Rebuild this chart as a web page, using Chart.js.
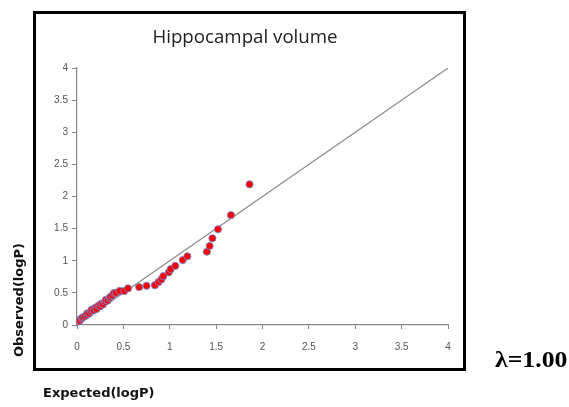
<!DOCTYPE html>
<html>
<head>
<meta charset="utf-8">
<script src="https://cdn.jsdelivr.net/npm/chart.js@4.4.0/dist/chart.umd.min.js"></script>
<style>
  html, body { margin: 0; padding: 0; background: #fff; }
  #wrap { position: relative; width: 569px; height: 407px; overflow: hidden; }
  #c { position: absolute; left: 0; top: 0; }
  #box { position: absolute; left: 33px; top: 11px; width: 433px; height: 360px; box-sizing: border-box; border: 3px solid #000; pointer-events: none; }
  .lbl { position: absolute; font-family: "DejaVu Sans", sans-serif; font-weight: bold; font-size: 13px; color: #111; white-space: nowrap; }
  #ylab { left: 18px; top: 300px; transform: translate(-50%, -50%) rotate(-90deg); }
  #xlab { left: 43px; top: 385px; }
  #lam { position: absolute; left: 495px; top: 347px; font-family: "Liberation Serif", "Times New Roman", serif; font-weight: bold; font-size: 23px; color: #000; white-space: nowrap; transform: scaleX(1.12); transform-origin: left center; }
</style>
</head>
<body>
<div id="wrap">
  <canvas id="c" width="569" height="407"></canvas>
  <div id="box"></div>
  <div class="lbl" id="ylab">Observed(logP)</div>
  <div class="lbl" id="xlab">Expected(logP)</div>
  <div id="lam">λ=1.00</div>
</div>
<script>
const chartTitle = "Hippocampal volume";
const expectedLogP = [0, 0.01, 0.015, 0.03, 0.05, 0.06, 0.08, 0.10, 0.11, 0.13, 0.15, 0.16, 0.18, 0.20, 0.21, 0.23, 0.25, 0.26, 0.28, 0.30, 0.31, 0.33, 0.35, 0.36, 0.38, 0.40, 0.42,
  0.46, 0.51, 0.55, 0.67, 0.75, 0.84, 0.88, 0.91, 0.93, 0.99, 1.01, 1.06, 1.14, 1.19, 1.40, 1.43, 1.46, 1.52, 1.66, 1.86];
const observedLogP = [0, 0.05, 0.08, 0.07, 0.10, 0.12, 0.13, 0.15, 0.18, 0.18, 0.21, 0.24, 0.23, 0.27, 0.25, 0.30, 0.29, 0.33, 0.32, 0.36, 0.39, 0.38, 0.42, 0.44, 0.46, 0.50, 0.50,
  0.53, 0.53, 0.57, 0.59, 0.61, 0.62, 0.67, 0.71, 0.76, 0.82, 0.87, 0.92, 1.01, 1.07, 1.14, 1.23, 1.35, 1.49, 1.71, 2.19];
const refLineX = [0, 4];
const refLineY = [0, 4];
const tickLabels = ["0", "0.5", "1", "1.5", "2", "2.5", "3", "3.5", "4"];
const axisMin = 0, axisMax = 4, axisStep = 0.5;

const pts = expectedLogP.map((x, i) => ({ x: x, y: observedLogP[i] }));
const ref = refLineX.map((x, i) => ({ x: x, y: refLineY[i] }));
const fmt = (v) => { const i = Math.round((v - axisMin) / axisStep); return tickLabels[i] !== undefined ? tickLabels[i] : ''; };

const tickFont = { family: "'Liberation Sans', Arial, sans-serif", size: 10 };
const axisColor = '#868686';

new Chart(document.getElementById('c'), {
  type: 'scatter',
  data: {
    datasets: [
      { type: 'scatter', data: pts, backgroundColor: '#ff0000', borderColor: 'rgba(110,140,215,0.85)', borderWidth: 1, pointRadius: 3.6, order: 1 },
      { type: 'line', data: ref, borderColor: '#8a8a8a', borderWidth: 1.2, pointRadius: 0, fill: false, tension: 0, order: 2 }
    ]
  },
  options: {
    responsive: false,
    animation: false,
    devicePixelRatio: 1,
    layout: { padding: { left: 42, right: 121, top: 0, bottom: 52 } },
    plugins: {
      legend: { display: false },
      tooltip: { enabled: false },
      title: {
        display: true, text: chartTitle, color: '#222',
        font: { family: "'Open Sans', sans-serif", size: 18.7, weight: 'normal', lineHeight: 1.2 },
        padding: { top: 26.5, bottom: 19.1 }
      }
    },
    scales: {
      x: {
        type: 'linear', min: axisMin, max: axisMax,
        ticks: { stepSize: axisStep, color: '#555', font: tickFont, padding: 12, maxRotation: 0, callback: fmt },
        grid: { drawOnChartArea: false, drawTicks: true, tickLength: 4, color: axisColor },
        border: { display: true, color: axisColor, width: 1.2 },
        afterFit: s => { s.height = 30; }
      },
      y: {
        type: 'linear', min: axisMin, max: axisMax,
        ticks: { stepSize: axisStep, color: '#555', font: tickFont, padding: 4, callback: fmt },
        grid: { drawOnChartArea: false, drawTicks: true, tickLength: 5, color: axisColor },
        border: { display: true, color: axisColor, width: 1.2 },
        afterFit: s => { s.width = 35; }
      }
    }
  }
});
</script>
</body>
</html>
